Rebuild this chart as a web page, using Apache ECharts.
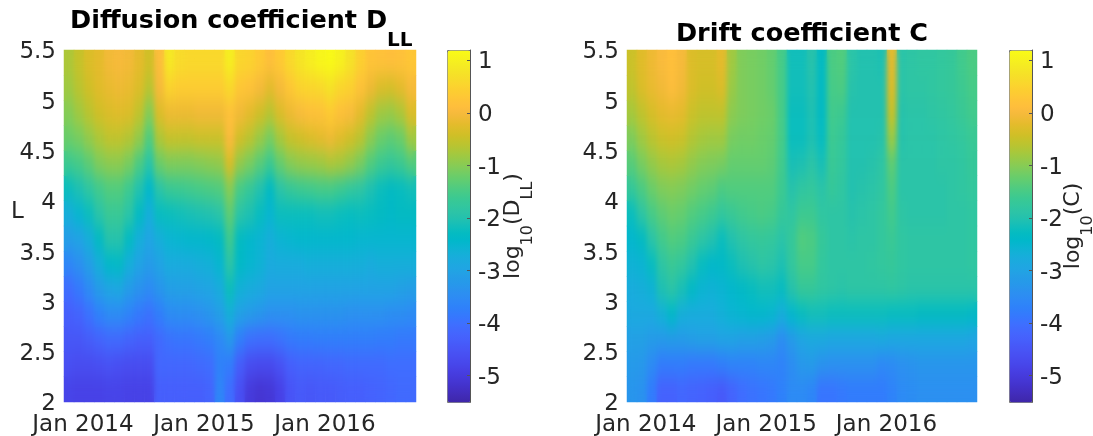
<!DOCTYPE html>
<html>
<head>
<meta charset="utf-8">
<script src="https://cdn.jsdelivr.net/npm/echarts@6/dist/echarts.min.js"></script>
<style>
html,body{margin:0;padding:0;background:#fff}
#main,#soft{position:absolute;left:0;top:0;width:1093px;height:436px}
#soft{pointer-events:none;filter:url(#smooth);clip-path:path('M64 50H416V402H64Z M627 50H977V402H627Z')}
</style>
</head>
<body>
<svg width="0" height="0" style="position:absolute"><filter id="smooth" x="-5%" y="-5%" width="110%" height="110%" color-interpolation-filters="sRGB"><feGaussianBlur stdDeviation="2.6 9"/></filter></svg>
<div id="main"></div>
<div id="soft"></div>
<script>
// Month bands along the time axis, and the L bands (centres, bottom to top)
var months = ['Nov 13','Dec 13','Jan 14','Feb 14','Mar 14','Apr 14','May 14','Jun 14','Jul 14','Aug 14','Sep 14','Oct 14','Nov 14','Dec 14','Jan 15','Feb 15','Mar 15','Apr 15','May 15','Jun 15','Jul 15','Aug 15','Sep 15','Oct 15','Nov 15','Dec 15','Jan 16','Feb 16','Mar 16','Apr 16','May 16','Jun 16','Jul 16','Aug 16','Sep 16'];
var lBands = ['2.125','2.375','2.625','2.875','3.125','3.375','3.625','3.875','4.125','4.375','4.625','4.875','5.125','5.375'];
var timeTicks = [0, 12, 24];
var timeTickLabels = ['Jan 2014', 'Jan 2015', 'Jan 2016'];
var lTicks = [2, 2.5, 3, 3.5, 4, 4.5, 5, 5.5];
var lTickLabels = ['2', '2.5', '3', '3.5', '4', '4.5', '5', '5.5'];
var colorbarTicks = [-5, -4, -3, -2, -1, 0, 1];

// log10(D_LL), one row per L band, top to bottom
var dll5375 = [-.7,-.5,-.3,-.2,-.05,0,-.05,-.2,-.4,.1,.85,.65,.6,.6,.6,.6,.95,.55,.5,.35,.15,.35,.6,.8,.95,1.1,1.15,1,.75,.45,.25,.2,.15,.2,.3];
var dll5125 = [-.8,-.6,-.4,-.25,-.15,-.1,-.15,-.3,-.6,0,.5,.4,.4,.4,.4,.4,.6,.3,.2,0,-.2,0,.3,.5,.55,.6,.75,.55,.45,.2,-.1,-.3,-.35,-.2,0];
var dll4875 = [-1,-.8,-.6,-.4,-.3,-.25,-.3,-.55,-1,-.3,-.1,-.1,-.1,-.05,-.05,-.05,.2,-.05,-.2,-.4,-.6,-.3,-.1,.05,.15,.2,.35,.15,.05,-.2,-.55,-.8,-.85,-.7,-.3];
var dll4625 = [-1.2,-1.1,-.9,-.7,-.55,-.55,-.65,-.9,-1.4,-.7,-.5,-.5,-.5,-.45,-.45,-.45,.05,-.4,-.6,-.85,-1.1,-.75,-.5,-.4,-.3,-.2,-.1,-.25,-.4,-.6,-.95,-1.2,-1.3,-1.2,-.8];
var dll4375 = [-1.6,-1.5,-1.3,-1.05,-.95,-.95,-1.1,-1.45,-1.9,-1.2,-1.05,-1.05,-1.05,-1,-.95,-.9,-.35,-.9,-1.1,-1.35,-1.6,-1.25,-1,-.9,-.85,-.8,-.7,-.75,-.9,-1.1,-1.4,-1.6,-1.7,-1.6,-1.4];
var dll4125 = [-2.2,-2.05,-1.8,-1.55,-1.4,-1.4,-1.6,-2,-2.4,-1.9,-1.65,-1.6,-1.55,-1.5,-1.45,-1.4,-1,-1.5,-1.7,-2,-2.3,-1.9,-1.7,-1.6,-1.55,-1.5,-1.5,-1.6,-1.75,-1.85,-2.05,-2.2,-2.3,-2.25,-2.15];
var dll3875 = [-2.7,-2.5,-2.2,-1.9,-1.65,-1.65,-1.9,-2.3,-2.7,-2.25,-2.2,-2.15,-2.1,-2.05,-2,-1.9,-1.3,-1.9,-2.05,-2.25,-2.5,-2.2,-2.2,-2.2,-2.2,-2.15,-2.15,-2.2,-2.25,-2.2,-2.25,-2.3,-2.35,-2.3,-2.3];
var dll3625 = [-3.1,-3,-2.7,-2.3,-1.95,-1.95,-2.3,-2.7,-2.95,-2.7,-2.55,-2.5,-2.45,-2.45,-2.4,-2.3,-1.6,-2.3,-2.45,-2.55,-2.7,-2.55,-2.5,-2.45,-2.45,-2.45,-2.45,-2.45,-2.45,-2.5,-2.5,-2.5,-2.5,-2.5,-2.5];
var dll3375 = [-3.6,-3.4,-3.1,-2.7,-2.4,-2.35,-2.7,-3,-3.15,-3,-2.8,-2.8,-2.75,-2.7,-2.65,-2.5,-1.9,-2.35,-2.5,-2.6,-2.8,-2.75,-2.75,-2.75,-2.7,-2.7,-2.7,-2.7,-2.7,-2.7,-2.75,-2.7,-2.7,-2.7,-2.7];
var dll3125 = [-4.05,-3.85,-3.5,-3.15,-2.95,-2.9,-3.15,-3.35,-3.5,-3.3,-3.1,-3.05,-3.05,-3,-2.95,-2.75,-2.2,-2.65,-2.75,-2.85,-3,-3,-3,-3,-3,-3,-3,-3,-3,-3,-3,-3,-3,-3.05,-3.1];
var dll2875 = [-4.3,-4.2,-3.95,-3.7,-3.5,-3.5,-3.65,-3.85,-3.95,-3.75,-3.5,-3.45,-3.45,-3.4,-3.3,-3.1,-2.7,-3.05,-3.2,-3.3,-3.4,-3.4,-3.4,-3.35,-3.35,-3.35,-3.35,-3.35,-3.4,-3.4,-3.4,-3.4,-3.45,-3.45,-3.5];
var dll2625 = [-4.45,-4.45,-4.35,-4.2,-4.1,-4.1,-4.2,-4.3,-4.3,-4.1,-3.95,-3.9,-3.9,-3.85,-3.75,-3.55,-3.25,-3.75,-4,-4.05,-4.05,-3.95,-3.85,-3.8,-3.8,-3.75,-3.75,-3.75,-3.75,-3.75,-3.75,-3.8,-3.8,-3.85,-3.85];
var dll2375 = [-4.6,-4.65,-4.65,-4.6,-4.55,-4.6,-4.65,-4.65,-4.65,-4.15,-4.15,-4.15,-4.15,-4.1,-4.05,-3.7,-3.8,-4.35,-4.65,-4.7,-4.7,-4.55,-4.3,-4.2,-4.2,-4.2,-4.15,-4.15,-4.1,-4.1,-4.1,-4.1,-4.05,-4.05,-4.05];
var dll2125 = [-4.8,-4.85,-4.85,-4.85,-4.8,-4.8,-4.85,-4.85,-4.85,-4.3,-4.3,-4.3,-4.3,-4.3,-4.2,-3.6,-4.05,-4.6,-5,-5.1,-5.05,-4.85,-4.5,-4.4,-4.45,-4.4,-4.4,-4.35,-4.3,-4.3,-4.25,-4.2,-4.15,-4.1,-4.1];

// log10(C), one row per L band, top to bottom
var c5375 = [-.45,-.25,-.1,.05,.15,0,-.3,-.35,-.35,-.2,-.8,-1.05,-1.1,-1.15,-1.25,-1.5,-2.15,-2.15,-1.95,-2.3,-1.45,-1.4,-1.9,-2,-2,-2.05,-.2,-1.9,-1.85,-1.8,-1.8,-1.75,-1.7,-1.55,-1.45];
var c5125 = [-.55,-.3,-.15,-.05,.1,-.05,-.3,-.4,-.4,-.3,-.85,-1.05,-1.1,-1.15,-1.25,-1.5,-2.15,-2.15,-2,-2.3,-1.5,-1.45,-1.95,-2,-2,-2,-.3,-1.9,-1.85,-1.85,-1.8,-1.75,-1.7,-1.6,-1.5];
var c4875 = [-.75,-.55,-.35,-.2,-.15,-.2,-.45,-.55,-.55,-.55,-.95,-1.05,-1.1,-1.15,-1.2,-1.5,-2.2,-2.2,-2.05,-2.3,-1.55,-1.6,-2,-2,-2,-2,-.5,-1.95,-1.9,-1.9,-1.85,-1.8,-1.75,-1.65,-1.55];
var c4625 = [-1.05,-.8,-.6,-.45,-.4,-.45,-.65,-.75,-.8,-.8,-1.1,-1.15,-1.15,-1.2,-1.25,-1.5,-2.2,-2.2,-2.05,-2.25,-1.6,-1.7,-2,-2,-2,-1.95,-.85,-1.95,-1.9,-1.9,-1.9,-1.85,-1.8,-1.75,-1.65];
var c4375 = [-1.35,-1.1,-.9,-.75,-.7,-.75,-.9,-1,-1.05,-1.1,-1.25,-1.25,-1.25,-1.25,-1.3,-1.55,-2.1,-2.05,-1.9,-2.1,-1.65,-1.75,-2,-2,-1.95,-1.85,-1.3,-1.9,-1.9,-1.9,-1.9,-1.85,-1.85,-1.8,-1.7];
var c4125 = [-1.7,-1.45,-1.2,-1.05,-1,-1.05,-1.15,-1.25,-1.3,-1.45,-1.4,-1.4,-1.4,-1.4,-1.4,-1.6,-1.95,-1.8,-1.75,-1.9,-1.7,-1.8,-2,-1.95,-1.9,-1.8,-1.45,-1.9,-1.9,-1.9,-1.9,-1.9,-1.85,-1.8,-1.75];
var c3875 = [-2.2,-1.85,-1.5,-1.3,-1.2,-1.25,-1.4,-1.5,-1.6,-1.75,-1.65,-1.55,-1.5,-1.45,-1.5,-1.7,-1.8,-1.6,-1.6,-1.8,-1.85,-1.85,-1.95,-1.9,-1.85,-1.75,-1.55,-1.85,-1.9,-1.9,-1.9,-1.9,-1.85,-1.85,-1.8];
var c3625 = [-2.45,-2.3,-1.9,-1.55,-1.4,-1.45,-1.65,-1.85,-2,-2.2,-2,-1.85,-1.75,-1.7,-1.75,-1.9,-1.7,-1.4,-1.45,-1.7,-1.85,-1.85,-1.9,-1.85,-1.85,-1.75,-1.65,-1.8,-1.85,-1.85,-1.85,-1.85,-1.85,-1.85,-1.8];
var c3375 = [-2.6,-2.55,-2.25,-1.85,-1.65,-1.75,-2,-2.25,-2.4,-2.35,-2.2,-2.05,-1.95,-1.85,-1.9,-2.05,-1.75,-1.5,-1.5,-1.75,-1.85,-1.85,-1.85,-1.85,-1.8,-1.75,-1.7,-1.8,-1.85,-1.85,-1.85,-1.85,-1.85,-1.85,-1.8];
var c3125 = [-2.75,-2.7,-2.6,-2.05,-1.9,-2.1,-2.35,-2.55,-2.6,-2.55,-2.45,-2.35,-2.25,-2.15,-2.15,-2.25,-1.95,-1.7,-1.7,-1.8,-1.85,-1.9,-1.85,-1.85,-1.85,-1.85,-1.8,-1.85,-1.9,-1.9,-1.9,-1.9,-1.9,-1.9,-1.9];
var c2875 = [-2.85,-2.85,-2.85,-2.65,-2.4,-2.7,-2.75,-2.75,-2.75,-2.65,-2.55,-2.5,-2.45,-2.45,-2.5,-2.7,-2.45,-2.25,-2.15,-2.15,-2.2,-2.2,-2.2,-2.2,-2.2,-2.2,-2.25,-2.25,-2.25,-2.3,-2.3,-2.3,-2.3,-2.3,-2.35];
var c2625 = [-3.05,-3.05,-3.15,-3.2,-3.15,-3.15,-3.1,-3.05,-3.05,-3,-3,-3.05,-3.05,-3.1,-3.2,-3.45,-3.2,-2.95,-2.85,-2.85,-2.9,-2.9,-2.9,-2.9,-2.9,-2.85,-2.9,-2.9,-2.9,-2.9,-2.9,-2.9,-2.9,-2.9,-2.95];
var c2375 = [-3.2,-3.25,-3.5,-3.8,-3.8,-3.8,-3.85,-3.85,-3.85,-3.75,-3.65,-3.65,-3.65,-3.6,-3.6,-3.65,-3.45,-3.25,-3.2,-3.35,-3.4,-3.4,-3.4,-3.4,-3.4,-3.55,-3.5,-3.4,-3.35,-3.3,-3.3,-3.3,-3.3,-3.3,-3.3];
var c2125 = [-3.3,-3.35,-3.8,-4.25,-4.25,-4.15,-4.2,-4.25,-4.3,-4.4,-4.2,-4.05,-3.95,-3.9,-3.85,-3.7,-3.5,-3.5,-3.6,-3.9,-3.9,-3.85,-3.8,-3.8,-3.8,-3.8,-3.65,-3.5,-3.45,-3.4,-3.4,-3.4,-3.4,-3.4,-3.4];

var dllRows = [dll2125,dll2375,dll2625,dll2875,dll3125,dll3375,dll3625,dll3875,dll4125,dll4375,dll4625,dll4875,dll5125,dll5375];
var cRows = [c2125,c2375,c2625,c2875,c3125,c3375,c3625,c3875,c4125,c4375,c4625,c4875,c5125,c5375];

var parula = [[.2422,.1504,.6603],[.2504,.165,.7076],[.2578,.1818,.7511],[.2647,.1978,.7952],[.2706,.2147,.8364],[.2751,.2342,.871],[.2783,.2559,.8991],[.2803,.2782,.9221],[.2813,.3006,.9414],[.281,.3228,.9579],[.2795,.3447,.9717],[.276,.3667,.9829],[.2699,.3892,.9906],[.2602,.4123,.9952],[.244,.4358,.9988],[.2206,.4603,.9973],[.1963,.4847,.9892],[.1834,.5074,.9798],[.1786,.5289,.9682],[.1764,.5499,.952],[.1687,.5703,.9359],[.154,.5902,.9218],[.146,.6091,.9079],[.138,.6276,.8973],[.1248,.6459,.8883],[.1113,.6635,.8763],[.0952,.6798,.8598],[.0689,.6948,.8394],[.0297,.7082,.8163],[.0036,.7203,.7917],[.0067,.7312,.766],[.0433,.7411,.7394],[.0964,.75,.712],[.1408,.7584,.6842],[.1717,.767,.6554],[.1938,.7758,.6251],[.2161,.7843,.5923],[.247,.7918,.5567],[.2906,.7973,.5188],[.3406,.8008,.4789],[.3909,.8029,.4354],[.4456,.8024,.3909],[.5044,.7993,.348],[.5616,.7942,.3045],[.6174,.7876,.2612],[.672,.7793,.2227],[.7242,.7698,.191],[.7738,.7598,.1646],[.8203,.7498,.1535],[.8634,.7406,.1596],[.9035,.733,.1774],[.9393,.7288,.21],[.9728,.7298,.2394],[.9956,.7434,.2371],[.997,.7659,.2199],[.9952,.7893,.2028],[.9892,.8136,.1885],[.9786,.8386,.1766],[.9676,.8639,.1643],[.961,.889,.1537],[.9597,.9135,.1423],[.9628,.9373,.1265],[.9691,.9606,.1064],[.9769,.9839,.0805]];
var parulaCss = parula.map(function (c) {
  return 'rgb(' + c.map(function (v) { return Math.round(v * 255); }).join(',') + ')';
});

var valueMin = -5.5, valueMax = 1.2;
var INK = '#262626';
var FONT = '"DejaVu Sans"';

function cells(rows) {
  var out = [];
  rows.forEach(function (row, y) {
    row.forEach(function (v, x) { out.push([x, y, v]); });
  });
  return out;
}

var panels = [
  { rows: dllRows, left: 64, width: 352, barLeft: 447, barGap: 32, barName: '{b|log}{s|10}{b|(D}{s|LL}{b|)}' },
  { rows: cRows, left: 627, width: 350, barLeft: 1009, barGap: 30, barName: '{b|log}{s|10}{b|(C)}' }
];

function build(full) {
  var opt = { animation: false, backgroundColor: full ? '#fff' : 'transparent', textStyle: { fontFamily: FONT },
    grid: [], xAxis: [], yAxis: [], series: [], visualMap: [] };
  panels.forEach(function (p, i) {
    var g = opt.grid.length;
    opt.grid.push({ left: p.left, top: 50, width: p.width, height: 352, containLabel: false, outerBoundsMode: 'none' });
    var xi = opt.xAxis.length, yi = opt.yAxis.length;
    opt.xAxis.push({ type: 'category', gridIndex: g, data: months, show: false });
    opt.yAxis.push({ type: 'category', gridIndex: g, data: lBands, show: false });
    opt.series.push({ type: 'heatmap', xAxisIndex: xi, yAxisIndex: yi, data: cells(p.rows), progressive: 0,
      silent: true, itemStyle: { borderWidth: 0 } });
    opt.visualMap.push({ type: 'continuous', seriesIndex: i, min: valueMin, max: valueMax, dimension: 2,
      show: full, left: p.barLeft, top: 50, itemWidth: 23, itemHeight: 352, padding: 0, calculable: false,
      borderColor: '#777', borderWidth: 1,
      hoverLink: false, realtime: false, text: null, inRange: { color: parulaCss } });
    if (!full) return;
    opt.xAxis.push({ type: 'value', gridIndex: g, position: 'bottom', min: -1.88, max: 33.03, splitLine: { show: false },
      axisLine: { show: false }, axisTick: { show: false },
      axisLabel: { customValues: timeTicks, margin: 12, fontSize: 23, color: INK, fontFamily: FONT, hideOverlap: false,
        showMinLabel: true, showMaxLabel: true,
        formatter: function (v) { return timeTickLabels[timeTicks.indexOf(v)]; } } });
    opt.yAxis.push({ type: 'value', gridIndex: g, position: 'left', min: 2, max: 5.5, splitLine: { show: false },
      axisLine: { show: false }, axisTick: { show: false },
      axisLabel: { customValues: lTicks, margin: 8, color: INK, fontFamily: FONT,
        rich: { v: { fontSize: 23, color: INK, fontFamily: FONT, padding: [5, 0, 0, 0] } },
        formatter: function (v) { return '{v|' + lTickLabels[lTicks.indexOf(v)] + '}'; } } });
    // colour-bar frame and its tick labels
    var gb = opt.grid.length;
    opt.grid.push({ left: p.barLeft, top: 50, width: 23, height: 352, show: false, outerBoundsMode: 'none' });
    opt.xAxis.push({ type: 'value', gridIndex: gb, show: false, min: 0, max: 1 });
    opt.yAxis.push({ type: 'value', gridIndex: gb, position: 'right', min: valueMin, max: valueMax, splitLine: { show: false }, z: 10,
      name: p.barName, nameLocation: 'middle', nameRotate: 90, nameGap: p.barGap, nameMoveOverlap: false,
      nameTextStyle: { color: INK, fontFamily: FONT, rich: {
        b: { fontSize: 22, color: INK, fontFamily: FONT, verticalAlign: 'top', lineHeight: 34 },
        s: { fontSize: 16, color: INK, fontFamily: FONT, verticalAlign: 'bottom', lineHeight: 34 } } },
      axisLine: { show: true, onZero: false, lineStyle: { color: '#555', width: 1 } },
      axisTick: { customValues: colorbarTicks, inside: true, length: 3, lineStyle: { color: '#555' } },
      axisLabel: { customValues: colorbarTicks, margin: 8, color: INK, fontFamily: FONT,
        rich: { v: { fontSize: 23, color: INK, fontFamily: FONT, padding: [4, 0, 0, 0] } },
        formatter: function (v) { return '{v|' + v + '}'; } } });
  });
  if (full) {
    opt.title = [
      { text: '{b|Diffusion coefficient D}{s|LL}', left: 70, top: 8, padding: 0, textStyle: { rich: {
        b: { fontSize: 25.5, fontWeight: 'bold', color: '#000', fontFamily: FONT, verticalAlign: 'top', lineHeight: 43 },
        s: { fontSize: 20, fontWeight: 'bold', color: '#000', fontFamily: FONT, verticalAlign: 'bottom', lineHeight: 43 } } } },
      { text: 'Drift coefficient C', left: 802, top: 21, padding: 0, textAlign: 'center',
        textStyle: { fontSize: 25.5, fontWeight: 'bold', color: '#000', fontFamily: FONT } }
    ];
    opt.graphic = [{ type: 'text', left: 11, top: 201, style: { text: 'L', fontSize: 23, fontFamily: FONT, fill: INK } }];
  }
  return opt;
}

echarts.init(document.getElementById('main'), null, { renderer: 'canvas' }).setOption(build(true));
echarts.init(document.getElementById('soft'), null, { renderer: 'canvas' }).setOption(build(false));
</script>
</body>
</html>
